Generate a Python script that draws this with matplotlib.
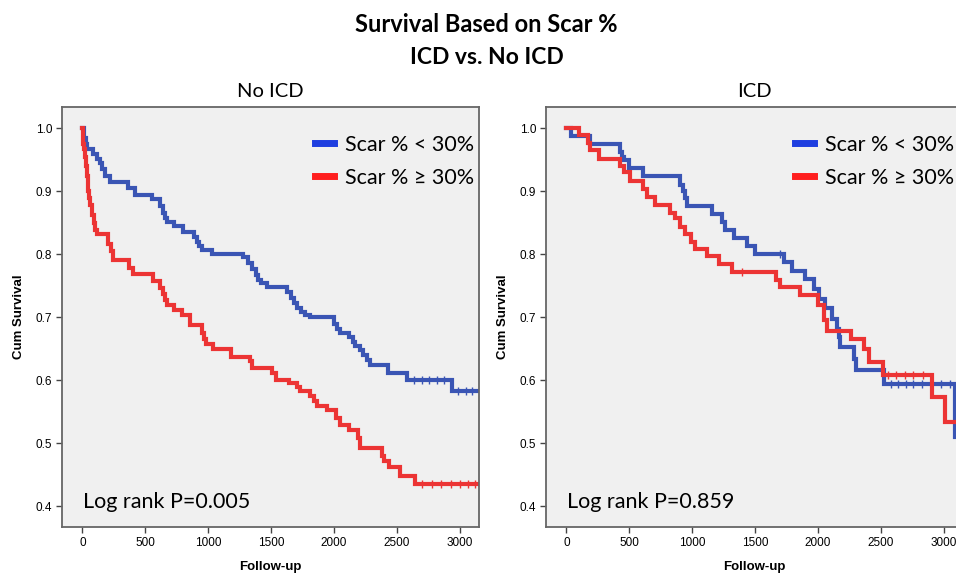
import numpy as np
import matplotlib
matplotlib.use("Agg")
import matplotlib.pyplot as plt
from matplotlib.lines import Line2D

# ---- data (time in days, cumulative survival) ----
noicd_low_t = [0, 10, 25, 40, 85, 120, 140, 160, 180, 220, 360, 420, 555, 615, 640, 660, 675, 730,
               800, 890, 910, 930, 953, 1032, 1275, 1320, 1350, 1380, 1400, 1417, 1468, 1630, 1660,
               1680, 1707, 1740, 1773, 1813, 2000, 2025, 2052, 2117, 2150, 2172, 2210, 2235, 2264,
               2290, 2435, 2585, 2943, 3160]
noicd_low_s = [1.0, 0.985, 0.975, 0.968, 0.96, 0.952, 0.945, 0.935, 0.925, 0.915, 0.906, 0.895,
               0.888, 0.876, 0.865, 0.858, 0.851, 0.845, 0.836, 0.828, 0.82, 0.814, 0.807, 0.80,
               0.795, 0.787, 0.777, 0.767, 0.76, 0.754, 0.748, 0.74, 0.73, 0.722, 0.715, 0.708,
               0.703, 0.70, 0.69, 0.682, 0.675, 0.668, 0.661, 0.655, 0.648, 0.64, 0.632, 0.624,
               0.612, 0.60, 0.583, 0.583]

noicd_high_t = [0, 3, 8, 14, 20, 28, 36, 45, 52, 60, 77, 90, 104, 120, 200, 225, 240, 370, 400,
                560, 620, 645, 660, 675, 730, 790, 860, 955, 965, 980, 1043, 1185, 1330, 1350,
                1510, 1540, 1640, 1705, 1735, 1810, 1840, 1866, 1946, 2020, 2052, 2117, 2190,
                2211, 2380, 2400, 2436, 2529, 2648, 3160]
noicd_high_s = [1.0, 0.985, 0.975, 0.968, 0.955, 0.94, 0.925, 0.90, 0.89, 0.878, 0.862, 0.85,
                0.838, 0.833, 0.817, 0.805, 0.791, 0.778, 0.768, 0.757, 0.747, 0.737, 0.727,
                0.72, 0.712, 0.703, 0.688, 0.675, 0.665, 0.658, 0.649, 0.637, 0.63, 0.62, 0.611,
                0.60, 0.595, 0.59, 0.583, 0.575, 0.567, 0.559, 0.553, 0.54, 0.529, 0.521, 0.508,
                0.492, 0.48, 0.472, 0.462, 0.448, 0.436, 0.436]

icd_low_t = [0, 40, 190, 428, 441, 460, 502, 613, 905, 925, 940, 958, 1157, 1237, 1263, 1330,
             1436, 1500, 1728, 1794, 1900, 1966, 2006, 2060, 2113, 2153, 2165, 2175, 2290, 2307,
             2530, 3095, 3110]
icd_low_s = [1.0, 0.988, 0.976, 0.963, 0.955, 0.95, 0.937, 0.925, 0.91, 0.90, 0.89, 0.876,
             0.864, 0.851, 0.839, 0.826, 0.813, 0.80, 0.788, 0.774, 0.761, 0.745, 0.729, 0.714,
             0.698, 0.682, 0.669, 0.653, 0.634, 0.617, 0.594, 0.51, 0.51]

icd_high_t = [0, 104, 170, 185, 260, 428, 460, 507, 613, 640, 706, 826, 866, 905, 945, 990,
              1025, 1118, 1218, 1317, 1670, 1700, 1855, 2000, 2046, 2073, 2265, 2365, 2405,
              2518, 2905, 3010, 3160]
icd_high_s = [1.0, 0.989, 0.977, 0.965, 0.952, 0.94, 0.931, 0.917, 0.904, 0.891, 0.879, 0.866,
              0.857, 0.844, 0.832, 0.82, 0.809, 0.797, 0.785, 0.772, 0.76, 0.748, 0.735, 0.72,
              0.695, 0.679, 0.666, 0.65, 0.629, 0.608, 0.573, 0.533, 0.533]

# censored observations (tick marks on the curves)
noicd_low_cens = [2640, 2700, 2760, 2820, 2880, 2990, 3050, 3100]
noicd_high_cens = [2700, 2780, 2850, 2930, 3000, 3070, 3120]
icd_low_cens = [1700, 2580, 2640, 2700, 2760, 2830, 2900, 2980, 3050]
icd_high_cens = [1400, 2560, 2620, 2690, 2760, 2840]

panel_titles = ["No ICD", "ICD"]
pvalues = ["Log rank P=0.005", "Log rank P=0.859"]
legend_labels = ["Scar % < 30%", "Scar % \u2265 30%"]
legend_x = [0.607, 0.596]

BLUE = "#3a55b4"
RED = "#ec3434"
TEXTFONT = ["Lato", "DejaVu Sans"]


def step_value(t, s, x):
    idx = np.searchsorted(t, x, side="right") - 1
    return np.asarray(s)[idx]


fig = plt.figure(figsize=(9.56, 5.75), dpi=100)
axw = 417 / 956
axh = 420 / 575
ax1 = fig.add_axes([62 / 956, 1 - 527 / 575, axw, axh])
ax2 = fig.add_axes([546 / 956, 1 - 527 / 575, axw, axh])

series = [
    (ax1, (noicd_low_t, noicd_low_s, noicd_low_cens), (noicd_high_t, noicd_high_s, noicd_high_cens)),
    (ax2, (icd_low_t, icd_low_s, icd_low_cens), (icd_high_t, icd_high_s, icd_high_cens)),
]

for k, (ax, low, high) in enumerate(series):
    ax.set_facecolor("#f0f0f0")
    for (t, s, c), col in [(low, BLUE), (high, RED)]:
        ax.step(t, s, where="post", color=col, lw=3.0, solid_joinstyle="miter")
        ax.plot(c, step_value(t, s, c), ls="none", marker="|", ms=6, mew=1.0, color=col)
    ax.set_xlim(-162, 3155)
    ax.set_ylim(0.367, 1.034)
    ax.set_xticks([0, 500, 1000, 1500, 2000, 2500, 3000])
    ax.set_yticks([0.4, 0.5, 0.6, 0.7, 0.8, 0.9, 1.0])
    ax.set_yticklabels(["0.4", "0.5", "0.6", "0.7", "0.8", "0.9", "1.0"])
    ax.tick_params(direction="out", length=4, width=1, color="#444444",
                   labelsize=8.5, pad=3)
    for lab in ax.get_xticklabels() + ax.get_yticklabels():
        lab.set_fontfamily("Liberation Sans")
    for sp in ax.spines.values():
        sp.set_color("#666666")
        sp.set_linewidth(1.3)
    ax.set_xlabel("Follow-up", fontsize=9.5, fontweight="bold",
                  fontfamily="Liberation Sans", labelpad=9)
    ax.set_ylabel("Cum Survival", fontsize=9.5, fontweight="bold",
                  fontfamily="Liberation Sans", labelpad=8)
    ax.text(0.05, 0.06, pvalues[k], transform=ax.transAxes, fontsize=15.5,
            family=TEXTFONT, va="center", ha="left")
    handles = [Line2D([], [], color="#1e3ee0", lw=5),
               Line2D([], [], color="#ff1e1e", lw=5)]
    ax.legend(handles, legend_labels, loc="upper left", bbox_to_anchor=(legend_x[k], 0.934),
              frameon=False, handlelength=0.9, handletextpad=0.5, labelspacing=0.6,
              borderaxespad=0, borderpad=0, prop={"family": TEXTFONT, "size": 15.5})
    ax.set_title(panel_titles[k], fontsize=14.5, family=TEXTFONT, pad=7)

fig.text(0.509, 1 - 25 / 575, "Survival Based on Scar %", ha="center", va="center",
         fontsize=17, fontweight="bold", family=TEXTFONT)
fig.text(0.509, 1 - 58 / 575, "ICD vs. No ICD", ha="center", va="center",
         fontsize=16.5, fontweight="bold", family=TEXTFONT)

fig.savefig("out.png", dpi=100)
